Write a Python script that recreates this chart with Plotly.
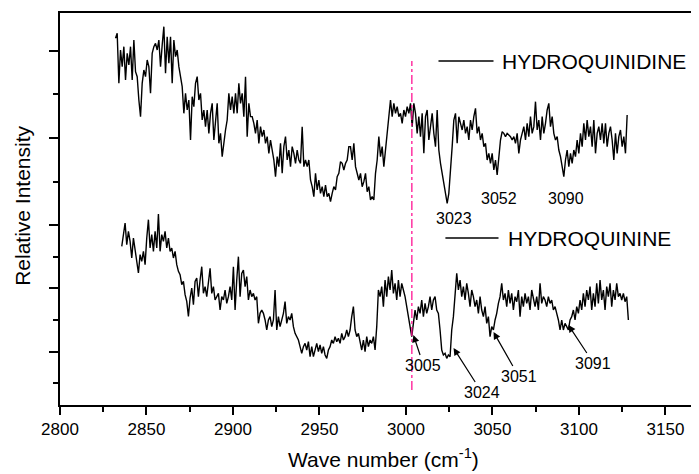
import numpy as np
import plotly.graph_objects as go

# ---------------- data ----------------
# uniform sampling of the spectra (cm^-1)
step_wn = 0.9634
hq_idine_start = 2832.1   # HYDROQUINIDINE first point
hq_inine_start = 2835.7   # HYDROQUININE first point

hydroquinidine = [
    1100, 1115, 965, 1065, 1015, 1075, 975, 1055, 1020, 1075, 975, 1095, 1000, 985, 915, 865,
    965, 1005, 985, 1035, 1015, 935, 1055, 1075, 1085, 1065, 1095, 1015, 1080, 1135, 995, 1105,
    1025, 1105, 965, 1095, 1045, 1065, 1015, 985, 955, 875, 935, 885, 915, 795, 925, 895,
    965, 985, 915, 935, 855, 885, 835, 885, 815, 875, 905, 795, 865, 905, 785, 815,
    745, 795, 825, 855, 935, 885, 925, 875, 935, 875, 965, 905, 935, 865, 985, 805,
    905, 865, 865, 845, 815, 855, 785, 835, 805, 825, 785, 805, 755, 795, 765, 735,
    685, 745, 715, 785, 695, 775, 805, 735, 765, 715, 775, 755, 725, 765, 735, 725,
    835, 715, 735, 715, 735, 675, 655, 625, 695, 645, 675, 635, 655, 625, 660, 625,
    635, 610, 635, 655, 645, 685, 695, 730, 725, 705, 725, 735, 775,
    775, 735, 785, 715, 695, 675, 695, 655, 670, 695, 640, 655, 615, 625, 615, 695,
    735, 805, 745, 775, 715, 765, 795, 855, 915, 865, 905, 875, 895, 865, 875, 845,
    885, 865, 895, 875, 905, 835, 905, 875, 815, 865, 805, 875, 755, 865, 885, 795,
    835, 875, 815, 775, 885, 765, 725, 695, 655, 625, 605, 635, 695, 775, 855, 875,
    785, 865, 845, 825, 855, 815, 835, 795, 855, 825, 865, 890, 815, 835, 795, 815,
    775, 785, 735, 755, 725, 755, 705, 735, 690, 755, 795, 820, 815, 805, 815, 810,
    805, 795, 805, 785, 815, 755, 795, 815, 835, 795, 845, 805, 865, 815, 835, 910,
    825, 855, 795, 865, 815, 845, 885, 905, 835, 865, 815, 795, 805, 765, 745, 715,
    685, 735, 765, 715, 755, 725, 765, 745, 795, 755, 815, 775, 845, 795, 855, 805,
    835, 775, 855, 755, 815, 835, 795, 845, 785, 845, 775, 815, 835, 795, 735, 815,
    755, 805, 825, 775, 805, 755, 870,
]

hydroquinine = [
    476, 521, 546, 481, 521, 491, 441, 501, 461, 431, 396, 451, 431, 461, 421, 501,
    556, 471, 511, 461, 521, 471, 573, 461, 511, 491, 521, 471, 501, 461, 471, 441,
    461, 421, 401, 391, 361, 371, 331, 311, 266, 321, 351, 301, 371, 381,
    325, 375, 415, 335, 355, 325, 375, 410, 335, 355, 315, 325, 335, 285, 325, 315,
    345, 305, 325, 355, 315, 415, 285, 375, 445, 325, 395, 405, 355, 385, 315, 345,
    325, 335, 315, 325, 245, 275, 285, 275, 255, 225, 255, 265, 235, 255, 345, 225,
    265, 235, 255, 275, 310, 245, 265, 255, 275, 235, 215, 205, 195, 175, 155, 175,
    185, 165, 190, 145, 175, 145, 165, 185, 160, 180, 155, 175, 150, 140, 165, 175,
    195, 185, 205, 190, 200, 185, 215, 195, 205, 225, 205,
    225, 265, 295, 225, 205, 215, 185, 165, 195, 160, 205, 175, 195, 185, 205, 165,
    235, 345, 325, 355, 295, 375, 325, 385, 345, 405, 335, 365, 315, 375, 325, 365,
    345, 325, 295, 265, 235, 205, 245, 285, 255, 295, 275, 315, 265, 305, 275, 295,
    325, 285, 315, 325, 285, 275, 225, 165, 150, 155, 140, 150, 145, 225, 265, 325,
    395, 345, 375, 325, 355, 315, 365, 335, 295, 345, 325, 295, 315, 275, 325, 285,
    265, 295, 245, 265, 205, 235, 225, 255, 275, 305, 325, 365, 315, 335, 295, 345,
    305, 335, 285, 325, 310, 345, 265, 325, 295, 335, 305, 325, 285, 345, 315, 295,
    325, 285, 365, 305, 325, 315, 295, 325, 305, 315, 285, 295, 275, 255, 225, 255,
    225, 245, 235, 225, 255, 265, 285, 255, 295, 275, 315, 285, 335, 295, 345, 315,
    355, 285, 335, 295, 365, 305, 375, 315, 345, 285, 355, 325, 365, 295, 345, 315,
    365, 325, 335, 315, 335, 310, 325, 255,
]

x_ticks = [2800, 2850, 2900, 2950, 3000, 3050, 3100, 3150]
y_major_ticks = [159, 351, 540, 801, 1062]
y_minor_ticks = [66, 255, 444, 669, 933]

top_peaks = ["3023", "3052", "3090"]
bottom_peaks = ["3005", "3024", "3051", "3091"]
series_names = ["HYDROQUINIDINE", "HYDROQUININE"]
ref_line_wn = 3003.4

x_top = hq_idine_start + step_wn * np.arange(len(hydroquinidine))
x_bot = hq_inine_start + step_wn * np.arange(len(hydroquinine))

FONT = "Liberation Sans, Arial, sans-serif"

fig = go.Figure()
fig.add_trace(go.Scatter(x=x_top, y=hydroquinidine, mode="lines",
                         line=dict(color="black", width=1.4), name=series_names[0],
                         showlegend=False))
fig.add_trace(go.Scatter(x=x_bot, y=hydroquinine, mode="lines",
                         line=dict(color="black", width=1.4), name=series_names[1],
                         showlegend=False))

# reference dash-dot line
fig.add_shape(type="line", xref="x", yref="y", x0=ref_line_wn, x1=ref_line_wn,
              y0=45, y1=1032, line=dict(color="#FF1493", width=1.3, dash="dashdot"))

# hand-drawn style legends
legend_pos = [(3018.8, 3050.6, 1032, 3054.6), (3022.8, 3053.5, 501, 3058.1)]
for name, (lx0, lx1, ly, tx) in zip(series_names, legend_pos):
    fig.add_shape(type="line", xref="x", yref="y", x0=lx0, x1=lx1, y0=ly, y1=ly,
                  line=dict(color="black", width=1.3))
    fig.add_annotation(x=tx, y=ly, xref="x", yref="y", text=name, showarrow=False,
                       xanchor="left", yanchor="middle",
                       font=dict(family=FONT, size=21, color="black"))

# top peak labels (no arrows)
top_pos = [(3027.5, 561), (3053.5, 621), (3092.8, 621)]
for t, (px, py) in zip(top_peaks, top_pos):
    fig.add_annotation(x=px, y=py, xref="x", yref="y", text=t, showarrow=False,
                       xanchor="center", yanchor="middle",
                       font=dict(family=FONT, size=16, color="black"))

# bottom peak labels with arrows
bot_pos = [(3004.3, 210, 10, 30), (3027.5, 171, 28, 44), (3050.6, 219, 25, 44), (3093.9, 240, 25, 38)]
for t, (hx, hy, ax, ay) in zip(bottom_peaks, bot_pos):
    fig.add_annotation(x=hx, y=hy, xref="x", yref="y", text=t, showarrow=True,
                       ax=ax, ay=ay, arrowhead=2, arrowsize=1.2, arrowwidth=1.2,
                       arrowcolor="black",
                       font=dict(family=FONT, size=16, color="black"))

# axis titles
fig.add_annotation(x=0, y=0.508, xref="paper", yref="paper", xshift=-37,
                   xanchor="center", yanchor="middle",
                   text="Relative Intensity", textangle=-90, showarrow=False,
                   font=dict(family=FONT, size=21, color="black"))
fig.add_annotation(x=0.506, y=0, xref="paper", yref="paper", yshift=-53,
                   xanchor="center", yanchor="middle",
                   text="Wave number (cm<sup>-1</sup>)", showarrow=False,
                   font=dict(family=FONT, size=21, color="black"))

fig.update_xaxes(range=[2800, 3169.4], tickmode="array", tickvals=x_ticks,
                 ticks="outside", ticklen=8, tickwidth=2, tickcolor="black",
                 showline=True, linewidth=2, linecolor="black", mirror=True,
                 showgrid=False, zeroline=False, automargin=False,
                 tickfont=dict(family=FONT, size=17, color="black"),
                 minor=dict(dtick=25, tick0=2800, ticks="outside", ticklen=5,
                            tickwidth=2, tickcolor="black", showgrid=False))
fig.update_yaxes(range=[0, 1176], tickmode="array", tickvals=y_major_ticks,
                 showticklabels=False, automargin=False,
                 ticks="outside", ticklen=9, tickwidth=2, tickcolor="black",
                 showline=True, linewidth=2, linecolor="black", mirror=False,
                 showgrid=False, zeroline=False,
                 minor=dict(tickmode="array", tickvals=y_minor_ticks, ticks="outside",
                            ticklen=5, tickwidth=2, tickcolor="black", showgrid=False))

# the page body adds an 8px offset; the figure is sized so the plot lands where the reference has it
fig.update_layout(width=691, height=466, margin=dict(l=52, r=0, t=5, b=69),
                  plot_bgcolor="white", paper_bgcolor="white", showlegend=False,
                  font=dict(family=FONT, color="black"))

fig.write_html("out.html")
